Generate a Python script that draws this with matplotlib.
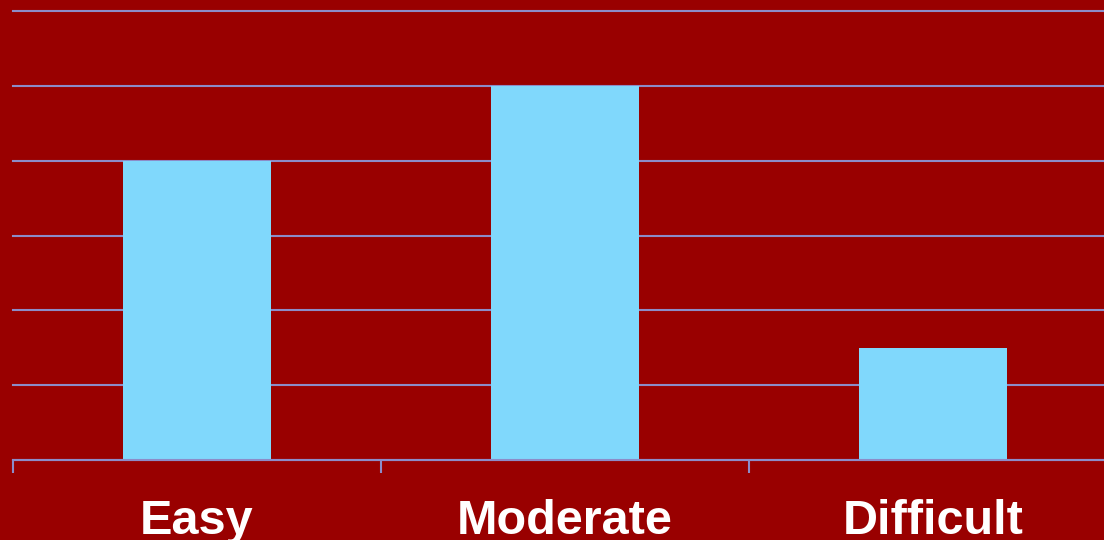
import matplotlib.pyplot as plt
import numpy as np

categories = ["Easy", "Moderate", "Difficult"]
values = [4, 5, 1.5]

bg = "#990000"
bar_color = "#80D8FC"
grid_color = "#8C8CC8"

fig = plt.figure(figsize=(11.04, 5.4), dpi=100, facecolor=bg)
# axes runs off the right edge of the picture, like the original slide
ax = fig.add_axes([13/1104, 80/540, 1104/1104, 449/540], facecolor=bg)

x = np.arange(len(categories))
ax.bar(x, values, width=0.4, color=bar_color, zorder=3)

ax.set_xlim(-0.5, 2.5)
ax.set_ylim(0, 6)
ax.set_yticks(np.arange(0, 7))
ax.yaxis.grid(True, color=grid_color, linewidth=1.5, zorder=1)
for gl in ax.get_ygridlines():
    gl.set_clip_on(False)
ax.tick_params(axis="y", left=False, labelleft=False)

ax.set_xticks(x)
ax.set_xticklabels(categories, fontsize=35, fontweight="bold", color="white",
                   family=["Liberation Sans", "DejaVu Sans"])
ax.set_xticks(np.arange(-0.5, 3.0, 1.0), minor=True)
ax.tick_params(axis="x", which="major", length=0, pad=28)
ax.tick_params(axis="x", which="minor", length=9.5, width=1.5, color=grid_color)

for side in ["top", "right", "left"]:
    ax.spines[side].set_visible(False)
ax.spines["bottom"].set_color(grid_color)
ax.spines["bottom"].set_linewidth(1.5)
ax.spines["bottom"].set_zorder(4)

fig.savefig("out.png", dpi=100, facecolor=bg)
